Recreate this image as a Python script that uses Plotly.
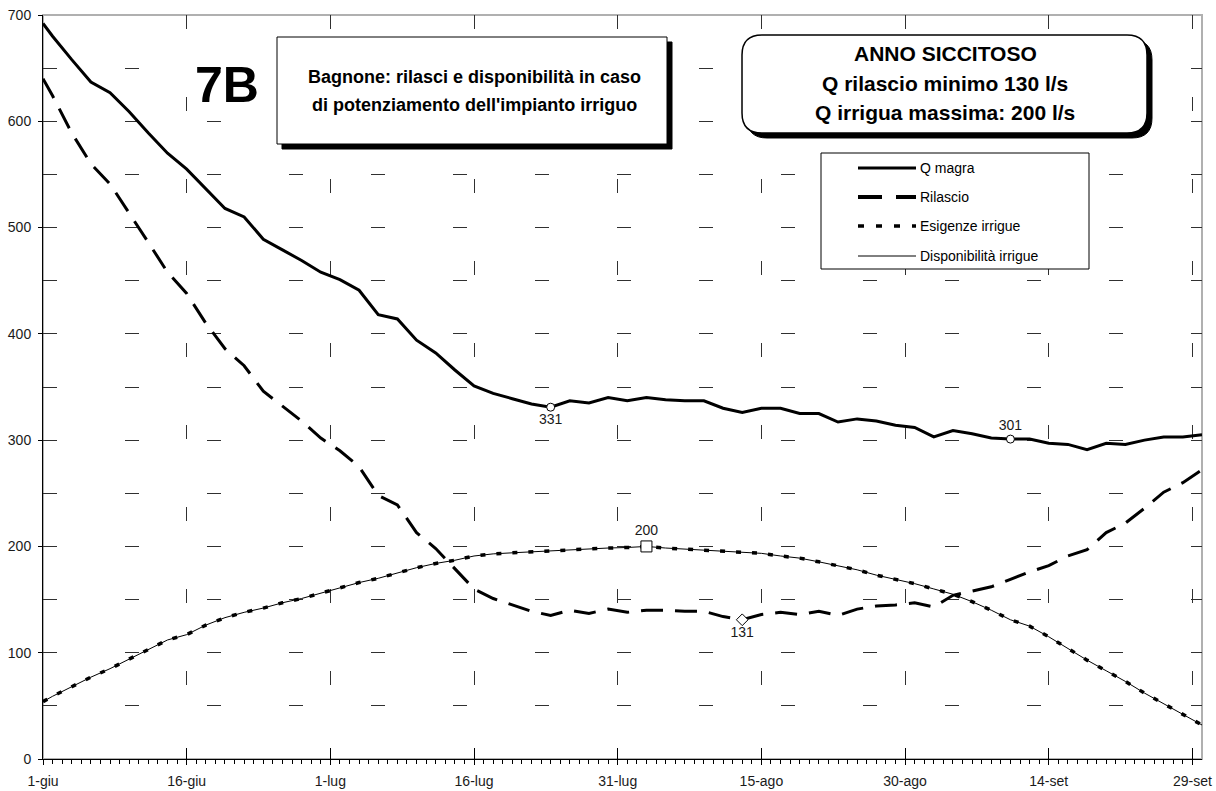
import plotly.graph_objects as go
import pandas as pd

# ---------------- data ----------------
START = "2003-06-01"
days = [0, 1, 3, 5, 7, 9, 11, 13, 15, 17, 19, 21, 23, 25, 27, 29, 31, 33, 35, 37,
        39, 41, 43, 45, 47, 49, 51, 53, 55, 57, 59, 61, 63, 65, 67, 69, 71, 73, 75, 77,
        79, 81, 83, 85, 87, 89, 91, 93, 95, 97, 99, 101, 103, 105, 107, 109, 111, 113,
        115, 117, 119, 121]

q_magra = [692, 680, 658, 637, 627, 609, 589, 570, 555, 536, 518, 510, 489, 479, 469, 458,
           451, 441, 418, 414, 394, 382, 366, 351, 344, 339, 334, 331, 337, 335, 340, 337,
           340, 338, 337, 337, 330, 326, 330, 330, 325, 325, 317, 320, 318, 314, 312, 303,
           309, 306, 302, 301, 301, 297, 296, 291, 297, 296, 300, 303, 303, 305]

rilascio = [640, 624, 589, 560, 541, 514, 486, 458, 438, 410, 386, 370, 346, 332, 318, 302,
            290, 275, 248, 239, 213, 198, 179, 160, 151, 145, 139, 135, 140, 137, 141, 138,
            140, 140, 139, 139, 134, 131, 136, 138, 136, 139, 135, 141, 144, 145, 147, 143,
            154, 158, 162, 169, 176, 182, 191, 197, 213, 222, 236, 251, 260, 272]

esigenze = [54, 59, 68, 77, 85, 94, 103, 112, 117, 126, 133, 138, 142, 147, 151, 156,
            161, 166, 170, 175, 180, 184, 187, 191, 193, 194, 195, 196, 197, 198, 198.5, 199,
            200, 198.5, 197.5, 196.5, 195.5, 194.5, 193.5, 191, 189, 185.5, 182, 178, 173, 169,
            165, 160, 155, 148, 140, 131, 125, 115, 104, 93, 83, 73, 62, 52, 42, 32]

disponibilita = [54, 59, 68, 77, 85, 94, 103, 112, 117, 126, 133, 138, 142, 147, 151, 156,
                 161, 166, 170, 175, 180, 184, 187, 191, 193, 194, 195, 196, 197, 198, 198.5, 199,
                 200, 198.5, 197.5, 196.5, 195.5, 194.5, 193.5, 191, 189, 185.5, 182, 178, 173, 169,
                 165, 160, 155, 148, 140, 131, 125, 115, 104, 93, 83, 73, 62, 52, 42, 32]

# highlighted points
hl_days = [53, 101, 63, 73]
hl_values = [331, 301, 200, 131]
hl_labels = ["331", "301", "200", "131"]
hl_symbols = ["circle", "circle", "square", "diamond"]
hl_sizes = [8, 8, 11, 9]
hl_textpos = ["bottom center", "top center", "top center", "bottom center"]

tick_days = [0, 15, 30, 45, 60, 75, 90, 105, 120]
tick_labels = ["1-giu", "16-giu", "1-lug", "16-lug", "31-lug", "15-ago", "30-ago", "14-set", "29-set"]

legend_names = ["Q magra", "Rilascio", "Esigenze irrigue", "Disponibilità irrigue"]

title_7b = "7B"
title_box = ["Bagnone: rilasci e disponibilità in caso", "di potenziamento dell'impianto irriguo"]
info_box = ["ANNO SICCITOSO", "Q rilascio minimo 130 l/s", "Q irrigua massima: 200 l/s"]

# ---------------- helpers ----------------
start = pd.Timestamp(START)


def to_date(d):
    return (start + pd.Timedelta(days=d)).strftime("%Y-%m-%d %H:%M")


x = [to_date(d) for d in days]

W, H = 1216, 791
ML, MR, MT, MB = 43, 14, 15, 32
PW, PH = W - ML - MR, H - MT - MB


def px(xp):
    return (xp - ML) / PW


def py(yp):
    return (H - MB - yp) / PH


FONT = "Liberation Sans, Arial, sans-serif"
BLACK = "#000000"
TXT = "#1a1a1a"

fig = go.Figure()

fig.add_trace(go.Scatter(x=x, y=q_magra, mode="lines", name=legend_names[0],
                         line=dict(color=BLACK, width=3), showlegend=False, hoverinfo="skip"))
fig.add_trace(go.Scatter(x=x, y=rilascio, mode="lines", name=legend_names[1],
                         line=dict(color=BLACK, width=3, dash="22px,12px"), showlegend=False,
                         hoverinfo="skip"))
fig.add_trace(go.Scatter(x=x, y=disponibilita, mode="lines", name=legend_names[3],
                         line=dict(color=BLACK, width=1), showlegend=False, hoverinfo="skip"))
fig.add_trace(go.Scatter(x=x, y=esigenze, mode="lines", name=legend_names[2],
                         line=dict(color=BLACK, width=3.5, dash="5px,11px"), showlegend=False,
                         hoverinfo="skip"))

# highlighted points with labels (on an overlaid x axis that supplies the outer half of the major ticks)
for d, v, lab, sym, sz, tp in zip(hl_days, hl_values, hl_labels, hl_symbols, hl_sizes, hl_textpos):
    fig.add_trace(go.Scatter(x=[to_date(d)], y=[v], mode="markers+text", text=[lab],
                             textposition=tp, xaxis="x2", yaxis="y",
                             textfont=dict(family=FONT, size=14, color=TXT),
                             marker=dict(symbol=sym, size=sz, color="white",
                                         line=dict(color=BLACK, width=1)),
                             showlegend=False, hoverinfo="skip", cliponaxis=False))

shapes = []
annotations = []

# plot area border (grey top/right)
shapes.append(dict(type="rect", xref="paper", yref="paper", x0=0, x1=1, y0=0, y1=1,
                   line=dict(color="#b0b0b0", width=2), layer="below"))

# title box with shadow
tb = (277, 37, 667, 144)
sh = 5
shapes.append(dict(type="rect", xref="paper", yref="paper",
                   x0=px(tb[0] + sh), x1=px(tb[2] + sh), y0=py(tb[3] + sh), y1=py(tb[1] + sh),
                   fillcolor=BLACK, line=dict(color=BLACK, width=1), layer="above"))
shapes.append(dict(type="rect", xref="paper", yref="paper",
                   x0=px(tb[0]), x1=px(tb[2]), y0=py(tb[3]), y1=py(tb[1]),
                   fillcolor="white", line=dict(color=BLACK, width=1), layer="above"))


def rrect_path(x0, y0, x1, y1, r):
    pts = [("M", (x0 + r, y0)), ("L", (x1 - r, y0)), ("Q", (x1, y0), (x1, y0 + r)),
           ("L", (x1, y1 - r)), ("Q", (x1, y1), (x1 - r, y1)), ("L", (x0 + r, y1)),
           ("Q", (x0, y1), (x0, y1 - r)), ("L", (x0, y0 + r)), ("Q", (x0, y0), (x0 + r, y0))]
    s = ""
    for item in pts:
        cmd = item[0]
        coords = " ".join(f"{px(a):.5f},{py(b):.5f}" for a, b in item[1:])
        s += f"{cmd} {coords} "
    return s + "Z"


ib = (742, 35, 1147, 133)
shapes.append(dict(type="path", xref="paper", yref="paper",
                   path=rrect_path(ib[0] + sh, ib[1] + sh, ib[2] + sh, ib[3] + sh, 20),
                   fillcolor=BLACK, line=dict(color=BLACK, width=1), layer="above"))
shapes.append(dict(type="path", xref="paper", yref="paper",
                   path=rrect_path(*ib, 20),
                   fillcolor="white", line=dict(color=BLACK, width=1.5), layer="above"))

# legend box
lb = (821, 153, 1089, 269)
shapes.append(dict(type="rect", xref="paper", yref="paper",
                   x0=px(lb[0]), x1=px(lb[2]), y0=py(lb[3]), y1=py(lb[1]),
                   fillcolor="white", line=dict(color=BLACK, width=1), layer="above"))
leg_rows = [168, 197, 226, 256]
leg_styles = [dict(width=3, dash="solid"), dict(width=4, dash="24px,14px"),
              dict(width=3.5, dash="6px,12px"), dict(width=1, dash="solid")]
for name, yy, st in zip(legend_names, leg_rows, leg_styles):
    shapes.append(dict(type="line", xref="paper", yref="paper",
                       x0=px(858), x1=px(916), y0=py(yy), y1=py(yy),
                       line=dict(color=BLACK, width=st["width"], dash=st["dash"]),
                       layer="above"))
    annotations.append(dict(xref="paper", yref="paper", x=px(918), y=py(yy), text=name,
                            showarrow=False, xanchor="left", yanchor="middle",
                            font=dict(family=FONT, size=14, color=BLACK)))

# texts
annotations.append(dict(xref="paper", yref="paper", x=px(227), y=py(85), text=f"<b>{title_7b}</b>",
                        showarrow=False, xanchor="center", yanchor="middle",
                        font=dict(family=FONT, size=50, color=BLACK)))
for t, yy in zip(title_box, [77, 105]):
    annotations.append(dict(xref="paper", yref="paper", x=px(474), y=py(yy), text=f"<b>{t}</b>",
                            showarrow=False, xanchor="center", yanchor="middle",
                            font=dict(family=FONT, size=18, color=BLACK)))
for t, yy in zip(info_box, [54, 83, 112]):
    annotations.append(dict(xref="paper", yref="paper", x=px(945), y=py(yy), text=f"<b>{t}</b>",
                            showarrow=False, xanchor="center", yanchor="middle",
                            font=dict(family=FONT, size=21, color=BLACK)))

GRID = "#303030"
GDASH = "14px,68px"
tickvals = [to_date(d) for d in tick_days]

fig.update_layout(
    width=W, height=H,
    margin=dict(l=ML, r=MR, t=MT, b=MB, pad=0, autoexpand=False),
    paper_bgcolor="white", plot_bgcolor="white",
    showlegend=False,
    shapes=shapes, annotations=annotations,
    xaxis=dict(
        type="date",
        automargin=False,
        range=[to_date(0), to_date(121)],
        tickmode="array",
        tickvals=tickvals,
        ticktext=tick_labels,
        ticks="inside", ticklen=11, tickwidth=1, tickcolor=BLACK,
        showline=True, linecolor=BLACK, linewidth=1,
        showgrid=True, gridcolor=GRID, gridwidth=1, griddash=GDASH,
        zeroline=False,
        tickfont=dict(family=FONT, size=14, color=TXT),
        ticklabelstandoff=9,
        minor=dict(ticks="outside", ticklen=4, tickcolor=BLACK, tickwidth=1,
                   dtick=86400000, tick0=to_date(0), showgrid=False),
    ),
    xaxis2=dict(
        type="date", overlaying="x", matches="x", anchor="y", side="bottom",
        automargin=False,
        tickmode="array", tickvals=tickvals, ticktext=[""] * len(tickvals),
        showticklabels=False,
        ticks="outside", ticklen=5, tickwidth=1, tickcolor=BLACK,
        showline=False, showgrid=False, zeroline=False,
    ),
    yaxis=dict(
        automargin=False,
        range=[0, 700],
        tickmode="linear", tick0=0, dtick=100,
        ticks="outside", ticklen=4, tickwidth=1, tickcolor=BLACK,
        showline=True, linecolor=BLACK, linewidth=1,
        showgrid=True, gridcolor=GRID, gridwidth=1, griddash=GDASH,
        zeroline=False,
        tickfont=dict(family=FONT, size=14, color=TXT),
        ticklabelstandoff=4,
        minor=dict(dtick=50, tick0=0, showgrid=True, gridcolor=GRID, gridwidth=1,
                   griddash=GDASH, ticks=""),
    ),
)

fig.write_html("out.html", config={"displayModeBar": False},
               post_script="document.body.style.margin='0';document.body.style.overflow='hidden';")
